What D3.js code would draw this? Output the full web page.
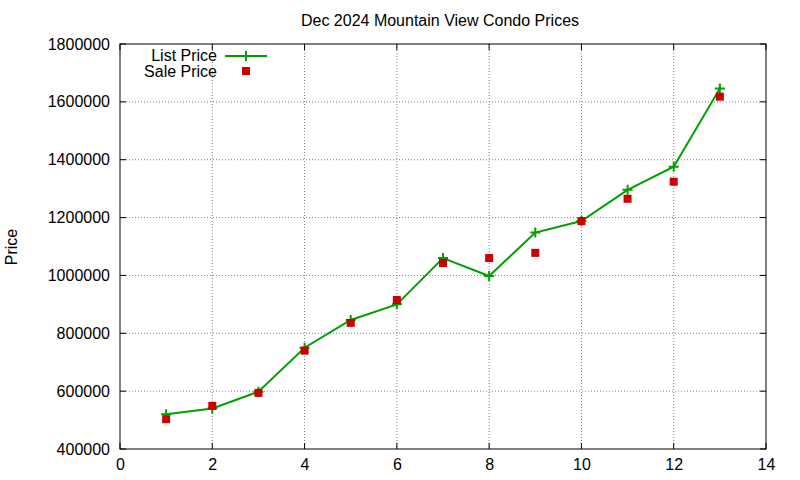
<!DOCTYPE html>
<html><head><meta charset="utf-8">
<script src="https://cdn.jsdelivr.net/npm/d3@7"></script>
<style>body{margin:0;background:#fff}svg{font-family:"Liberation Sans",Arial,sans-serif}</style>
</head><body><svg id="c" width="800" height="480"></svg>
<script>
const xs=[1,2,3,4,5,6,7,8,9,10,11,12,13];
const listPrice=[520000,540000,598000,750000,846000,900000,1060000,998000,1148000,1188000,1296000,1376000,1646000];
const salePrice=[503000,549000,594000,740000,836000,915000,1043000,1060000,1078000,1188000,1265000,1324000,1618000];
const xTicks=[0,2,4,6,8,10,12,14];
const yTicks=[400000,600000,800000,1000000,1200000,1400000,1600000,1800000];
const svg=d3.select("#c");
const L=120,R=766,T=44,B=449,FS=16;
const x=d3.scaleLinear().domain([0,14]).range([L,R]);
const y=d3.scaleLinear().domain([400000,1800000]).range([B,T]);
const g=svg.append("g");
xTicks.forEach(t=>{if(t>0&&t<14)g.append("line").attr("x1",x(t)).attr("x2",x(t)).attr("y1",T).attr("y2",B).attr("stroke","#808080").attr("stroke-dasharray","1,2");});
yTicks.forEach(t=>{if(t>400000&&t<1800000)g.append("line").attr("x1",L).attr("x2",R).attr("y1",y(t)).attr("y2",y(t)).attr("stroke","#808080").attr("stroke-dasharray","1,2");});
svg.append("g").attr("transform",`translate(0,${B})`).call(d3.axisBottom(x).tickValues(xTicks).tickSize(0).tickPadding(10)).call(a=>a.select(".domain").remove()).selectAll("text").attr("font-size",FS).attr("fill","#000").attr("font-family","Liberation Sans");
svg.append("g").attr("transform",`translate(${L},0)`).call(d3.axisLeft(y).tickValues(yTicks).tickFormat(d=>d).tickSize(0).tickPadding(10)).call(a=>a.select(".domain").remove()).selectAll("text").attr("font-size",FS).attr("fill","#000").attr("font-family","Liberation Sans");
xTicks.forEach(t=>{svg.append("line").attr("x1",x(t)).attr("x2",x(t)).attr("y1",B).attr("y2",B-6).attr("stroke","#000");svg.append("line").attr("x1",x(t)).attr("x2",x(t)).attr("y1",T).attr("y2",T+6).attr("stroke","#000");});
yTicks.forEach(t=>{svg.append("line").attr("x1",L).attr("x2",L+6).attr("y1",y(t)).attr("y2",y(t)).attr("stroke","#000");svg.append("line").attr("x1",R).attr("x2",R-6).attr("y1",y(t)).attr("y2",y(t)).attr("stroke","#000");});
svg.append("rect").attr("x",L).attr("y",T).attr("width",R-L).attr("height",B-T).attr("fill","none").attr("stroke","#000");
const green="#00a000",red="#cc0000";
svg.append("path").datum(xs.map((d,i)=>[d,listPrice[i]])).attr("d",d3.line().x(d=>x(d[0])).y(d=>y(d[1]))).attr("fill","none").attr("stroke",green).attr("stroke-width",2);
const plus=(cx,cy)=>{svg.append("path").attr("d",`M${cx-5},${cy}H${cx+5}M${cx},${cy-5}V${cy+5}`).attr("stroke",green).attr("stroke-width",2);};
xs.forEach((d,i)=>plus(x(d),y(listPrice[i])));
svg.selectAll(".s").data(xs).enter().append("rect").attr("x",(d)=>x(d)-4).attr("y",(d,i)=>y(salePrice[i])-4).attr("width",8).attr("height",8).attr("fill",red);
svg.append("text").attr("x",217).attr("y",61).attr("text-anchor","end").attr("font-size",FS).text("List Price");
svg.append("line").attr("x1",225).attr("x2",267).attr("y1",56).attr("y2",56).attr("stroke",green).attr("stroke-width",2);
plus(246,56);
svg.append("text").attr("x",217).attr("y",77).attr("text-anchor","end").attr("font-size",FS).text("Sale Price");
svg.append("rect").attr("x",242).attr("y",67).attr("width",8).attr("height",8).attr("fill",red);
svg.append("text").attr("x",440).attr("y",26).attr("text-anchor","middle").attr("font-size",FS).text("Dec 2024 Mountain View Condo Prices");
svg.append("text").attr("transform","translate(17,247) rotate(-90)").attr("text-anchor","middle").attr("font-size",FS).text("Price");
</script></body></html>
